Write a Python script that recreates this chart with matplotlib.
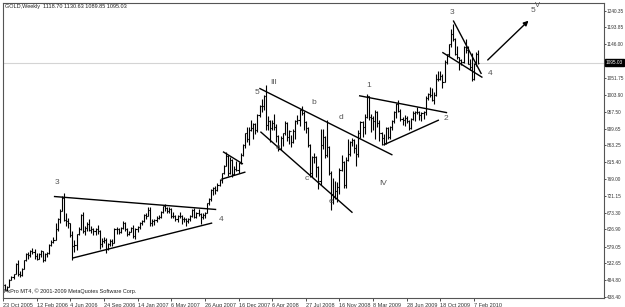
import matplotlib
matplotlib.use('Agg')
import matplotlib.pyplot as plt
from matplotlib.collections import LineCollection

# ---------------- data (weekly GOLD bars) ----------------
symbol_title = "GOLD,Weekly  1118.70 1130.63 1089.85 1095.03"
copyright_text = "FxPro MT4, \u00a9 2001-2009 MetaQuotes Software Corp."

first_open = 466.0
last_open = 1118.70

close = [
    472, 458, 466, 486, 494, 501, 530, 503, 500, 517,
    540, 558, 556, 567, 565, 553, 545, 557, 566, 540, 557, 560, 584, 592, 597, 627,
    655, 680, 714, 654, 650, 644, 610, 580, 583, 613, 627, 668, 623, 630, 642, 625,
    628, 622, 627, 622, 587, 595, 598, 573, 585, 594, 590, 628, 627, 620, 630, 646,
    628, 614, 620, 632,
    608, 628, 633, 645, 652, 667, 665, 682, 645, 650, 654, 660, 663, 676, 692, 688,
    680, 684, 666, 664, 656, 664, 664, 655, 655, 650, 655, 666, 681, 663, 673, 670,
    663, 667, 673, 700, 711, 738, 743, 738, 752, 765, 785, 806, 833, 786, 822, 783,
    796, 795, 812, 837,
    864, 897, 881, 907, 912, 922, 906, 947, 973, 973, 1000, 920, 932, 912, 926, 913,
    889, 853, 884, 896, 926, 887, 902, 871, 903, 930, 934, 963, 954, 927, 912, 864,
    785, 830, 830, 803, 762, 865, 885, 835, 857, 785, 725, 718, 735, 745, 795, 815,
    752, 823, 838, 871,
    878, 855, 838, 898, 928, 914, 942, 1002, 942, 940, 930, 955, 925, 898, 882, 870,
    912, 885, 915, 930, 957, 980, 960, 938, 935, 940, 930, 912, 937, 953, 955, 956,
    947, 953, 955, 995, 1006, 1005, 991, 1003, 1050, 1050, 1057, 1040, 1096, 1118,
    1146, 1176, 1162, 1120, 1110, 1103, 1096,
    1138, 1130, 1092, 1083, 1050, 1090, 1118, 1095.03,
]
high = [
    476, 474, 468, 487, 497, 503, 532, 541, 510, 518,
    542, 560, 563, 570, 576, 571, 562, 560, 570, 567, 561, 564, 585, 597, 605, 645,
    660, 683, 721, 730, 674, 658, 646, 622, 597, 615, 634, 670, 676, 636, 648, 657,
    638, 631, 630, 640, 625, 603, 605, 603, 590, 600, 600, 630, 633, 630, 634, 650,
    648, 632, 623, 634,
    640, 630, 636, 648, 654, 670, 672, 690, 691, 656, 657, 665, 668, 678, 693, 697,
    690, 690, 686, 677, 668, 668, 676, 668, 661, 658, 660, 667, 684, 686, 675, 683,
    674, 672, 676, 701, 715, 740, 746, 750, 758, 769, 786, 808, 845, 835, 830, 825,
    805, 820, 815, 840,
    866, 897, 914, 915, 933, 925, 925, 950, 976, 993, 1005, 1031, 946, 934, 935, 950,
    924, 893, 888, 897, 930, 928, 905, 893, 908, 933, 947, 966, 972, 960, 932, 915,
    866, 834, 840, 834, 805, 908, 910, 890, 935, 860, 790, 772, 762, 760, 800, 835,
    820, 830, 880, 875,
    884, 880, 866, 905, 930, 930, 950, 1007, 1000, 950, 945, 962, 960, 935, 900, 895,
    915, 915, 918, 935, 960, 982, 990, 966, 942, 947, 945, 935, 940, 959, 959, 970,
    960, 955, 958, 1000, 1009, 1025, 1023, 1012, 1062, 1072, 1070, 1062, 1101, 1120,
    1148, 1190, 1204, 1165, 1142, 1110, 1105,
    1140, 1162, 1140, 1105, 1123, 1093, 1125, 1130.63,
]
low = [
    463, 456, 455, 465, 484, 489, 501, 497, 493, 496,
    516, 538, 545, 549, 558, 543, 540, 545, 551, 536, 539, 550, 558, 580, 588, 597,
    623, 646, 680, 650, 636, 630, 605, 542, 565, 568, 612, 625, 617, 612, 624, 622,
    617, 612, 612, 614, 573, 577, 590, 560, 568, 580, 580, 588, 615, 613, 618, 628,
    623, 608, 610, 619,
    603, 601, 620, 628, 640, 649, 656, 664, 637, 636, 640, 647, 655, 660, 674, 678,
    672, 672, 660, 660, 651, 648, 660, 642, 648, 637, 646, 651, 663, 658, 660, 665,
    642, 656, 658, 672, 695, 706, 723, 725, 735, 748, 757, 782, 806, 778, 782, 775,
    780, 790, 786, 810,
    832, 855, 873, 864, 904, 880, 895, 900, 942, 957, 963, 905, 907, 871, 906, 906,
    872, 846, 849, 860, 892, 876, 866, 858, 868, 880, 923, 916, 947, 905, 898, 857,
    775, 773, 812, 775, 740, 752, 853, 826, 830, 781, 681, 698, 712, 703, 725, 790,
    742, 743, 818, 833,
    860, 840, 805, 830, 884, 886, 895, 940, 935, 900, 905, 880, 915, 875, 865, 865,
    867, 880, 880, 905, 925, 940, 955, 930, 920, 916, 925, 905, 910, 935, 932, 950,
    935, 930, 937, 947, 990, 998, 987, 980, 1000, 1043, 1046, 1024, 1040, 1091,
    1112, 1139, 1155, 1115, 1105, 1075, 1088,
    1093, 1122, 1090, 1075, 1044, 1045, 1085, 1089.85,
]

date_ticks = [0, 16, 32, 48, 64, 80, 96, 112, 128, 144, 160, 176, 192, 208, 224]
date_labels = ["23 Oct 2005", "12 Feb 2006", "4 Jun 2006", "24 Sep 2006",
               "14 Jan 2007", "6 May 2007", "26 Aug 2007", "16 Dec 2007",
               "6 Apr 2008", "27 Jul 2008", "16 Nov 2008", "8 Mar 2009",
               "28 Jun 2009", "18 Oct 2009", "7 Feb 2010"]
price_ticks = [438.40, 484.80, 532.65, 579.05, 626.90, 673.30, 721.15, 769.00,
               815.40, 863.25, 909.65, 957.50, 1003.90, 1051.75, 1146.00,
               1193.85, 1240.35]
current_price = 1095.03

# trend lines (bar index, price) -> (bar index, price)
trend_lines = [
    ((24.2, 719.4), (101.4, 682.9)),
    ((33.2, 546.9), (99.5, 645.1)),
    ((104.6, 845.0), (114.1, 810.5)),
    ((103.8, 767.6), (115.3, 788.0)),
    ((121.9, 1022.8), (185.2, 835.7)),
    ((122.4, 901.1), (166.2, 673.9)),
    ((169.3, 1002.0), (211.2, 954.3)),
    ((180.9, 863.8), (207.3, 933.9)),
    ((214.1, 1212.9), (227.5, 1062.8)),
    ((208.9, 1123.7), (228.0, 1053.0)),
]
arrow_from = (230.5, 1102.1)
arrow_to = (249.9, 1212.3)

wave_labels = [
    ("3", 25.6, 760), ("4", 103.8, 653.5),
    ("5", 120.9, 1009.6), ("III", 128.9, 1037.6), ("b", 147.9, 984.3),
    ("d", 160.7, 939.5), ("a", 130.8, 855.4), ("c", 144.5, 771.2),
    ("e", 155.9, 704.0), ("IV", 181.0, 754.4),
    ("1", 173.8, 1029.2), ("2", 210.4, 938.6),
    ("3", 213.7, 1234.0), ("4", 231.8, 1064.8),
    ("5", 252.0, 1240.4),
]
wave_sup = ("V", 254.4, 1253.5)

# ---------------- drawing ----------------
plt.rcParams['font.family'] = ['Liberation Sans', 'DejaVu Sans']

fig = plt.figure(figsize=(6.25, 3.07), dpi=100)
ax = fig.add_axes([3 / 625, 9 / 307, 601 / 625, 295 / 307])
ax.set_xlim(0.95, 285.8)
ax.set_ylim(434.75, 1261.9)

opens = [first_open] + close[:-2] + [last_open]
segs = []
for i, (o, h, l, c) in enumerate(zip(opens, high, low, close)):
    segs.append([(i, l), (i, h)])
    segs.append([(i - 0.5, o), (i, o)])
    segs.append([(i, c), (i + 0.5, c)])
ax.add_collection(LineCollection(segs, colors='black', linewidths=0.8))

ax.axhline(current_price, color='#d4d4d4', lw=0.8, zorder=0)

for (x0, y0), (x1, y1) in trend_lines:
    ax.plot([x0, x1], [y0, y1], color='black', lw=1.0, solid_capstyle='butt')

ax.annotate('', xy=arrow_to, xytext=arrow_from,
            arrowprops=dict(arrowstyle='-|>', color='black', lw=1.0,
                            mutation_scale=7, shrinkA=0, shrinkB=0))

for t, x, y in wave_labels:
    ax.text(x, y, t, fontsize=6, color='#555555', ha='center', va='center')
ax.text(wave_sup[1], wave_sup[2], wave_sup[0], fontsize=5.5, color='#555555',
        ha='center', va='center')

ax.text(0.004, 0.995, symbol_title, transform=ax.transAxes, fontsize=4,
        color='#222222', ha='left', va='top')
ax.text(0.002, 0.015, copyright_text, transform=ax.transAxes, fontsize=4,
        color='#222222', ha='left', va='bottom')

# axes styling
for s in ax.spines.values():
    s.set_color('#555555')
    s.set_linewidth(0.8)
ax.yaxis.tick_right()
ax.set_yticks(price_ticks)
ax.set_yticklabels([f"{v:.2f}" for v in price_ticks])
ax.tick_params(axis='y', direction='out', length=1.5, width=0.6, pad=0.6,
               labelsize=3.4, colors='#333333')
ax.set_xticks(date_ticks)
ax.set_xticklabels(date_labels)
for lab in ax.get_xticklabels():
    lab.set_horizontalalignment('left')
ax.tick_params(axis='x', direction='out', length=2, width=0.6, pad=1.5,
               labelsize=4, colors='#333333')

# current price marker on the axis
ax.text(1.003, current_price, f"{current_price:.2f}", transform=ax.get_yaxis_transform(),
        fontsize=3.4, color='white', ha='left', va='center',
        bbox=dict(boxstyle='square,pad=0.15', fc='black', ec='black'))

fig.savefig('out.png', dpi=100, facecolor='white')
